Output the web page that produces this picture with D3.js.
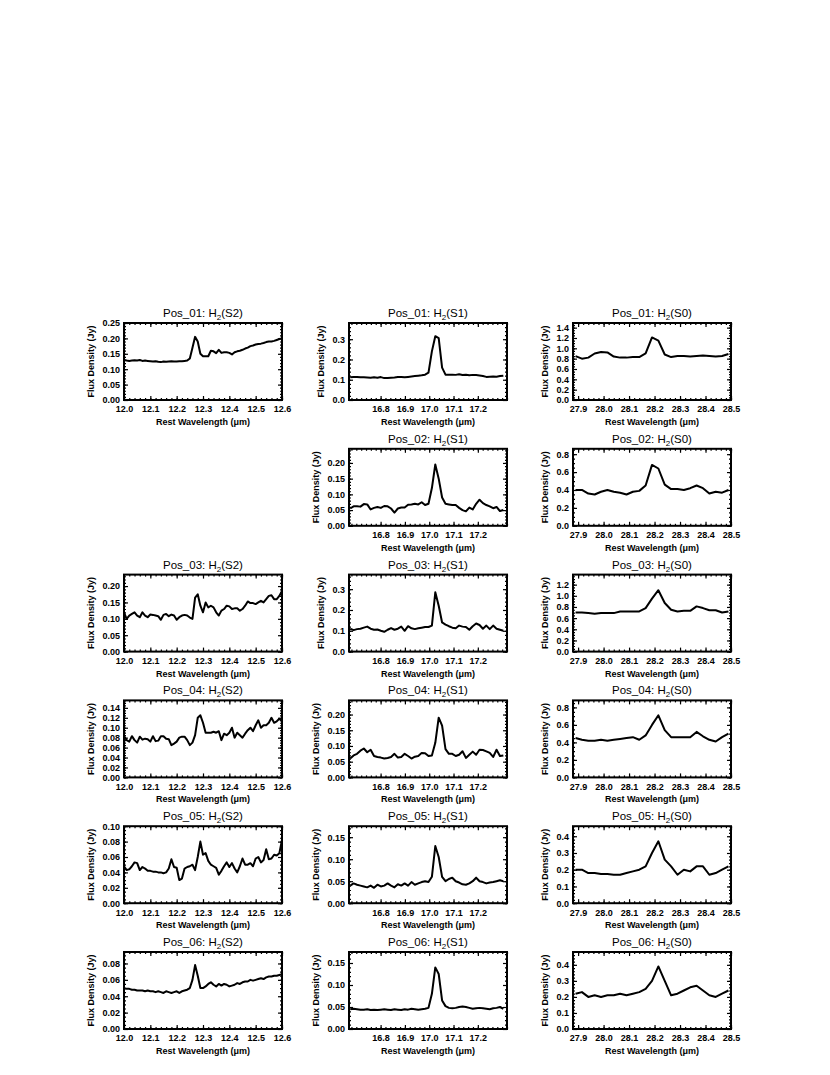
<!DOCTYPE html>
<html>
<head>
<meta charset="utf-8">
<script src="https://cdn.jsdelivr.net/npm/d3@7"></script>
<style>
body { margin: 0; background: #fff; }
text { font-family: "Liberation Sans", Helvetica, Arial, sans-serif; }
</style>
</head>
<body>
<div id="chart"></div>
<script>
// the three H2 lines, one per column
var lineNames = ["S2", "S1", "S0"];
var xDomains = [[12.0, 12.6], [16.67, 17.32], [27.88, 28.5]];
var xFirst = [12.0, 16.675, 27.89];
var xLast = [12.6, 17.305, 28.49];
var xTicks = [
  [12.0, 12.1, 12.2, 12.3, 12.4, 12.5, 12.6],
  [16.8, 16.9, 17.0, 17.1, 17.2],
  [27.9, 28.0, 28.1, 28.2, 28.3, 28.4, 28.5]
];

var positions = ["Pos_01", "Pos_02", "Pos_03", "Pos_04", "Pos_05", "Pos_06"];

// y axis top and major step for each panel (null = no panel)
var yMax = [
  [0.25, 0.38, 1.49],
  [null, 0.245, 0.86],
  [0.235, 0.37, 1.38],
  [0.155, 0.245, 0.88],
  [0.10, 0.175, 0.46],
  [0.094, 0.175, 0.48]
];
var yStep = [
  [0.05, 0.1, 0.2],
  [null, 0.05, 0.2],
  [0.05, 0.1, 0.2],
  [0.02, 0.05, 0.2],
  [0.02, 0.05, 0.1],
  [0.02, 0.05, 0.1]
];

// flux density (Jy)
var pos01_S2 = [0.130,0.128,0.127,0.128,0.129,0.128,0.130,0.127,0.128,0.127,0.126,0.125,0.126,0.124,0.123,0.125,0.124,0.125,0.126,0.125,0.125,0.126,0.126,0.127,0.128,
  0.135,0.170,0.205,0.190,0.150,0.142,0.142,0.142,0.160,0.158,0.152,0.163,0.153,0.155,0.155,0.153,0.148,0.155,0.158,0.160,0.163,0.167,0.170,0.175,0.177,0.180,0.182,0.183,0.185,0.188,0.190,0.190,0.192,0.195,0.198,0.200];
var pos03_S2 = [0.120,0.100,0.110,0.115,0.120,0.110,0.105,0.120,0.110,0.105,
  0.113,0.112,0.110,0.108,0.097,0.112,0.115,0.108,0.113,0.110,
  0.097,0.105,0.110,0.112,0.110,0.104,0.100,0.165,0.175,0.140,
  0.120,0.150,0.135,0.140,0.135,0.120,0.110,0.125,0.130,0.140,
  0.138,0.130,0.132,0.132,0.125,0.130,0.140,0.153,0.148,0.148,
  0.145,0.150,0.155,0.150,0.160,0.170,0.172,0.160,0.160,0.170,0.185];
var pos04_S2 = [0.083,0.075,0.072,0.083,0.075,0.070,0.082,0.076,0.078,0.077,
  0.072,0.083,0.073,0.074,0.083,0.083,0.078,0.077,0.065,0.068,
  0.072,0.080,0.082,0.082,0.075,0.065,0.070,0.085,0.120,0.125,
  0.110,0.090,0.090,0.090,0.092,0.090,0.093,0.075,0.088,0.085,
  0.090,0.100,0.080,0.090,0.085,0.080,0.088,0.095,0.100,0.093,
  0.105,0.115,0.100,0.105,0.105,0.110,0.120,0.110,0.113,0.118,0.113];
var pos05_S2 = [0.048,0.043,0.044,0.048,0.053,0.052,0.043,0.047,0.045,0.042,
  0.042,0.041,0.041,0.040,0.040,0.039,0.040,0.045,0.057,0.047,
  0.046,0.030,0.032,0.045,0.047,0.048,0.050,0.043,0.060,0.080,
  0.063,0.065,0.055,0.050,0.048,0.046,0.037,0.042,0.048,0.053,
  0.047,0.052,0.045,0.040,0.048,0.058,0.050,0.050,0.052,0.048,
  0.058,0.060,0.053,0.056,0.070,0.057,0.058,0.063,0.062,0.065,0.082];
var pos06_S2 = [0.050,0.049,0.049,0.048,0.048,0.047,0.047,0.047,0.046,0.047,
  0.046,0.046,0.045,0.046,0.045,0.044,0.046,0.045,0.044,0.045,
  0.046,0.044,0.046,0.047,0.048,0.050,0.060,0.078,0.065,0.050,
  0.050,0.052,0.055,0.057,0.054,0.052,0.055,0.053,0.055,0.054,
  0.052,0.053,0.054,0.056,0.055,0.057,0.058,0.058,0.060,0.059,
  0.060,0.061,0.062,0.061,0.063,0.064,0.064,0.065,0.065,0.066,0.067];

var pos01_S1 = [0.112,0.113,0.114,0.112,0.112,0.111,0.110,0.112,0.110,0.113,0.108,0.109,0.110,0.111,0.113,0.113,0.112,0.114,0.116,0.118,0.120,0.122,0.125,
  0.135,0.240,0.315,0.305,0.160,0.125,0.125,0.125,0.124,0.127,0.123,0.125,0.122,0.124,0.123,0.121,0.118,0.114,0.115,0.116,0.115,0.118,0.120];
var pos02_S1 = [0.055,0.062,0.062,0.061,0.069,0.068,0.052,0.057,0.060,0.057,0.063,0.062,0.055,0.042,0.055,0.058,0.058,0.067,0.068,0.070,0.068,0.075,0.066,
  0.070,0.120,0.195,0.150,0.090,0.070,0.068,0.066,0.066,0.057,0.050,0.046,0.058,0.052,0.070,0.083,0.072,0.066,0.062,0.056,0.060,0.047,0.050];
var pos03_S1 = [0.110,0.103,0.108,0.110,0.115,0.120,0.110,0.105,0.106,0.100,0.095,0.105,0.113,0.105,0.110,0.120,0.100,0.122,0.112,0.108,0.112,0.115,0.118,
  0.118,0.125,0.285,0.220,0.140,0.130,0.122,0.115,0.112,0.125,0.120,0.118,0.105,0.122,0.135,0.128,0.110,0.125,0.108,0.125,0.110,0.105,0.100];
var pos04_S1 = [0.060,0.070,0.075,0.085,0.092,0.080,0.088,0.068,0.065,0.063,0.060,0.062,0.065,0.075,0.063,0.065,0.075,0.068,0.060,0.066,0.068,0.078,0.077,
  0.068,0.070,0.110,0.190,0.165,0.090,0.075,0.075,0.068,0.072,0.083,0.062,0.072,0.082,0.072,0.088,0.087,0.083,0.078,0.065,0.088,0.068,0.070];
var pos05_S1 = [0.040,0.045,0.042,0.040,0.038,0.036,0.040,0.035,0.042,0.038,0.040,0.045,0.040,0.036,0.043,0.040,0.045,0.040,0.048,0.042,0.045,0.048,0.050,
  0.048,0.060,0.130,0.105,0.060,0.050,0.055,0.058,0.050,0.047,0.043,0.042,0.045,0.050,0.058,0.050,0.048,0.045,0.047,0.048,0.050,0.052,0.050];
var pos06_S1 = [0.045,0.046,0.045,0.044,0.044,0.045,0.043,0.044,0.043,0.044,0.045,0.044,0.043,0.045,0.044,0.043,0.045,0.044,0.046,0.045,0.044,0.045,0.046,
  0.048,0.080,0.140,0.125,0.065,0.052,0.048,0.047,0.048,0.050,0.051,0.050,0.048,0.046,0.047,0.048,0.047,0.046,0.045,0.047,0.048,0.050,0.046];

var pos01_S0 = [0.85,0.80,0.82,0.90,0.93,0.92,0.84,0.82,0.82,0.83,0.83,0.90,1.21,1.15,0.88,0.83,0.85,0.85,0.84,0.85,0.86,0.85,0.84,0.85,0.89];
var pos02_S0 = [0.40,0.40,0.36,0.35,0.38,0.40,0.38,0.37,0.35,0.38,0.39,0.45,0.68,0.64,0.46,0.41,0.41,0.40,0.42,0.45,0.42,0.36,0.38,0.37,0.40];
var pos03_S0 = [0.70,0.70,0.69,0.68,0.69,0.69,0.69,0.72,0.72,0.72,0.72,0.78,0.95,1.10,0.87,0.75,0.72,0.73,0.73,0.81,0.78,0.74,0.74,0.70,0.72];
var pos04_S0 = [0.45,0.43,0.42,0.42,0.43,0.42,0.43,0.44,0.45,0.46,0.43,0.48,0.60,0.71,0.54,0.46,0.46,0.46,0.46,0.52,0.47,0.43,0.41,0.46,0.50];
var pos05_S0 = [0.20,0.20,0.18,0.18,0.175,0.175,0.17,0.17,0.18,0.19,0.20,0.22,0.30,0.37,0.26,0.22,0.17,0.20,0.19,0.22,0.22,0.17,0.18,0.20,0.22];
var pos06_S0 = [0.22,0.23,0.20,0.21,0.20,0.21,0.21,0.22,0.21,0.22,0.23,0.25,0.30,0.39,0.30,0.21,0.22,0.24,0.26,0.27,0.24,0.21,0.20,0.22,0.24];

var series = [
  [pos01_S2, pos01_S1, pos01_S0],
  [null, pos02_S1, pos02_S0],
  [pos03_S2, pos03_S1, pos03_S0],
  [pos04_S2, pos04_S1, pos04_S0],
  [pos05_S2, pos05_S1, pos05_S0],
  [pos06_S2, pos06_S1, pos06_S0]
];

var ColLeft = [124, 349, 573];
var RowTop = 323, RowStep = 125.8;
var PlotW = 158, PlotH = 77;
var Major = 4, Minor = 2;

var svg = d3.select("#chart").append("svg")
  .attr("width", 830)
  .attr("height", 1075)
  .style("background", "#fff");

positions.forEach(function(pos, r) {
  lineNames.forEach(function(name, c) {
    var vals = series[r][c];
    if (!vals) return;

    var top = RowTop + r * RowStep;
    var g = svg.append("g").attr("transform", "translate(" + ColLeft[c] + "," + top + ")");

    var x = d3.scaleLinear().domain(xDomains[c]).range([0, PlotW]);
    var y = d3.scaleLinear().domain([0, yMax[r][c]]).range([PlotH, 0]);

    var step = yStep[r][c];
    var yTicks = d3.range(0, yMax[r][c] + 1e-9, step).map(function(v) { return +v.toFixed(4); });
    var nMinY = (step == 0.2 || step == 0.02) ? 4 : 5;
    var yMinor = d3.range(0, yMax[r][c] + 1e-9, step / nMinY);
    var xMinor = d3.range(Math.ceil(xDomains[c][0] * 50) / 50, xDomains[c][1] + 1e-9, 0.02);
    var yFmt = d3.format(step < 0.1 ? ".2f" : ".1f");

    // minor ticks on all four sides
    g.append("g").attr("class", "minor").attr("transform", "translate(0," + PlotH + ")")
      .call(d3.axisBottom(x).tickValues(xMinor).tickSize(-Minor).tickFormat(""));
    g.append("g").attr("class", "minor")
      .call(d3.axisTop(x).tickValues(xMinor).tickSize(-Minor).tickFormat(""));
    g.append("g").attr("class", "minor")
      .call(d3.axisLeft(y).tickValues(yMinor).tickSize(-Minor).tickFormat(""));
    g.append("g").attr("class", "minor").attr("transform", "translate(" + PlotW + ",0)")
      .call(d3.axisRight(y).tickValues(yMinor).tickSize(-Minor).tickFormat(""));

    // major ticks
    var gx = g.append("g").attr("class", "major").attr("transform", "translate(0," + PlotH + ")")
      .call(d3.axisBottom(x).tickValues(xTicks[c]).tickSize(-Major).tickPadding(6).tickFormat(d3.format(".1f")));
    g.append("g").attr("class", "major")
      .call(d3.axisTop(x).tickValues(xTicks[c]).tickSize(-Major).tickFormat(""));
    var gy = g.append("g").attr("class", "major")
      .call(d3.axisLeft(y).tickValues(yTicks).tickSize(-Major).tickPadding(4).tickFormat(yFmt));
    g.append("g").attr("class", "major").attr("transform", "translate(" + PlotW + ",0)")
      .call(d3.axisRight(y).tickValues(yTicks).tickSize(-Major).tickFormat(""));

    g.selectAll(".domain").remove();
    g.selectAll(".tick line").attr("stroke", "#000").attr("stroke-width", 1.2);
    g.selectAll(".tick text")
      .attr("fill", "#000")
      .style("font-size", "9px")
      .style("font-weight", "bold");

    // spectrum
    var n = vals.length;
    var xs = d3.range(n).map(function(i) { return xFirst[c] + i * (xLast[c] - xFirst[c]) / (n - 1); });
    var line = d3.line()
      .x(function(d, i) { return x(xs[i]); })
      .y(function(d) { return y(d); });
    g.append("path")
      .datum(vals)
      .attr("d", line)
      .attr("fill", "none")
      .attr("stroke", "#000")
      .attr("stroke-width", 2)
      .attr("stroke-linejoin", "round");

    // frame
    g.append("rect")
      .attr("width", PlotW)
      .attr("height", PlotH)
      .attr("fill", "none")
      .attr("stroke", "#000")
      .attr("stroke-width", 2);

    // title
    var t = g.append("text")
      .attr("x", PlotW / 2)
      .attr("y", -6)
      .attr("text-anchor", "middle")
      .style("font-size", "11.5px");
    t.append("tspan").text(pos + ": H");
    t.append("tspan").attr("dy", 3).style("font-size", "8px").text("2");
    t.append("tspan").attr("dy", -3).text("(" + name + ")");

    // axis titles
    g.append("text")
      .attr("x", PlotW / 2)
      .attr("y", PlotH + 25)
      .attr("text-anchor", "middle")
      .style("font-size", "9px")
      .style("font-weight", "bold")
      .text("Rest Wavelength (\u03bcm)");

    var bb = gy.node().getBBox();
    g.append("text")
      .attr("transform", "translate(" + (bb.x - 8) + "," + (PlotH / 2) + ") rotate(-90)")
      .attr("text-anchor", "middle")
      .style("font-size", "9px")
      .style("font-weight", "bold")
      .text("Flux Density (Jy)");
  });
});
</script>
</body>
</html>
